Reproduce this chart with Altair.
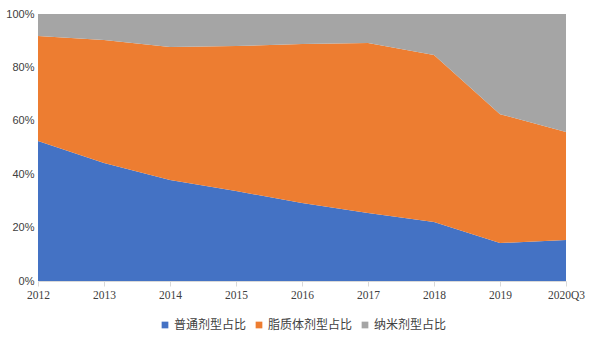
import altair as alt
import pandas as pd

years = ["2012", "2013", "2014", "2015", "2016", "2017", "2018", "2019", "2020Q3"]
series = ["普通剂型占比", "脂质体剂型占比", "纳米剂型占比"]
putong = [52.4, 44.2, 37.8, 33.7, 29.2, 25.5, 22.1, 14.2, 15.4]
zhizhi = [39.4, 46.1, 49.8, 54.3, 59.6, 63.6, 62.5, 48.3, 40.4]
nami = [8.2, 9.7, 12.4, 12.0, 11.2, 10.9, 15.4, 37.5, 44.2]
colors = ["#4472C4", "#ED7D31", "#A5A5A5"]

rows = []
for i, y in enumerate(years):
    for k, (name, vals) in enumerate(zip(series, [putong, zhizhi, nami])):
        rows.append({"year": y, "series": name, "value": vals[i], "ord": k})
df = pd.DataFrame(rows)

chart = alt.Chart(df).mark_area(opacity=1).encode(
    x=alt.X("year:O", sort=years, scale=alt.Scale(type="point", padding=0),
            axis=alt.Axis(title=None, labelAngle=0, labelFont="Liberation Serif",
                          labelFontSize=11.5, labelColor="#404040", domainColor="#D9D9D9",
                          tickColor="#D9D9D9", tickSize=5, labelPadding=3, grid=False)),
    y=alt.Y("value:Q", stack="normalize",
            axis=alt.Axis(title=None, format=".0%", values=[0, 0.2, 0.4, 0.6, 0.8, 1.0],
                          labelFont="Liberation Sans", labelFontSize=11, labelColor="#404040",
                          domain=False, ticks=False, grid=False, labelPadding=4)),
    color=alt.Color("series:N", sort=series,
                    scale=alt.Scale(domain=series, range=colors),
                    legend=alt.Legend(title=None, orient="none", direction="horizontal",
                                      legendX=121, legendY=305, symbolType="square",
                                      symbolSize=45, labelFont="Noto Sans CJK SC",
                                      labelFontSize=12, labelColor="#404040",
                                      labelOffset=3, columnPadding=6, symbolOpacity=1)),
    order=alt.Order("ord:Q"),
).properties(
    width=528, height=267,
    autosize=alt.AutoSizeParams(type="none"),
    padding={"left": 38, "top": 14, "right": 39, "bottom": 59},
).configure_view(stroke=None)

chart.save("out.html", embed_options={"renderer": "svg", "actions": False})
